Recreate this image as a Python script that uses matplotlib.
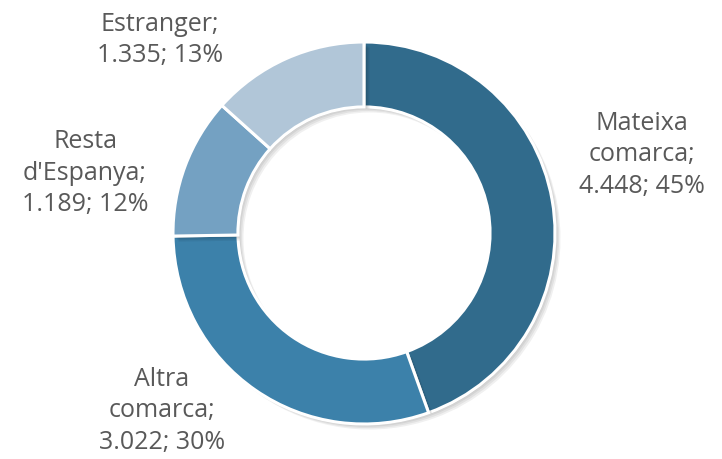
import matplotlib.pyplot as plt
import matplotlib.patheffects as pe

categories = ["Mateixa\ncomarca", "Altra\ncomarca", "Resta\nd'Espanya", "Estranger"]
values = [4448, 3022, 1189, 1335]
colors = ["#316B8C", "#3C81AA", "#74A1C2", "#B1C6D8"]

# label anchor points (figure pixels, from top-left)
label_pos = [(642, 155), (162, 411), (85, 173), (160, 40)]

W, H = 722, 459
fig = plt.figure(figsize=(W / 100, H / 100), dpi=100, facecolor="white")

cx, cy, R = 364, 233, 191
ax = fig.add_axes([(cx - R) / W, (H - cy - R) / H, 2 * R / W, 2 * R / H])

# soft drop shadow built from a few offset translucent layers
shadow = [pe.SimplePatchShadow(offset=(d, -d), shadow_rgbFace="#000000", alpha=0.06)
          for d in (1, 2, 3, 4)] + [pe.Normal()]

wedges, _ = ax.pie(values, colors=colors, startangle=90, counterclock=False,
                   radius=1.0, wedgeprops=dict(width=0.34, edgecolor="white", linewidth=2.2))
for w in wedges:
    w.set_path_effects(shadow)

ax.set_xlim(-1, 1)
ax.set_ylim(-1, 1)
ax.set_aspect("equal")
ax.axis("off")

total = sum(values)
for cat, v, (px, py) in zip(categories, values, label_pos):
    pct = round(100 * v / total)
    txt = f"{cat};\n{v / 1000:.3f}; {pct}%"
    fig.text(px / W, 1 - py / H, txt, ha="center", va="center", fontsize=18,
             color="#595959", family="Open Sans", linespacing=1.33)

fig.savefig("out.png", dpi=100, facecolor="white")
